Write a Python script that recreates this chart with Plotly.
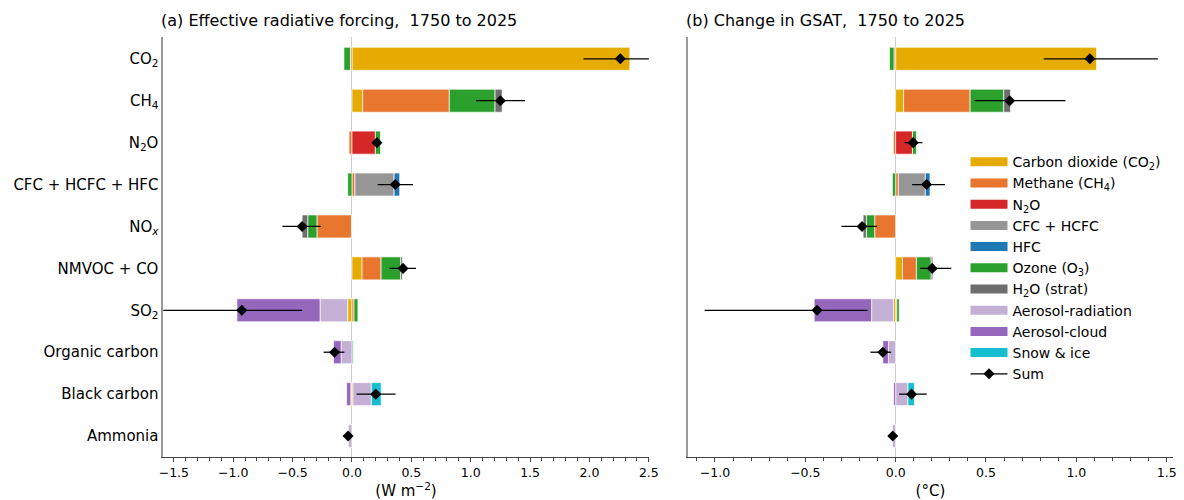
import plotly.graph_objects as go

# The page body adds an 8 px margin, so the figure is 8 px smaller and all
# pixel positions below are in figure coordinates (screen - 8).
W, H = 1176, 492

categories = ["CO<sub>2</sub>", "CH<sub>4</sub>", "N<sub>2</sub>O", "CFC + HCFC + HFC",
              "NO<sub><i>x</i></sub>", "NMVOC + CO", "SO<sub>2</sub>", "Organic carbon",
              "Black carbon", "Ammonia"]

component_names = ["Carbon dioxide (CO<sub>2</sub>)", "Methane (CH<sub>4</sub>)", "N<sub>2</sub>O",
                   "CFC + HCFC", "HFC", "Ozone (O<sub>3</sub>)", "H<sub>2</sub>O (strat)",
                   "Aerosol-radiation", "Aerosol-cloud", "Snow &amp; ice"]
component_colors = ["#E5AB00", "#E8762F", "#D62728", "#969696", "#1F77B4", "#2CA02C",
                     "#6E6E6E", "#C5B0D5", "#9467BD", "#17BECF"]

# (a) Effective radiative forcing (W m-2), per component
erf_co2 = [2.34, 0.09, 0, 0, -0.005, 0.085, -0.036, 0, -0.01, 0]
erf_ch4 = [-0.013, 0.73, -0.025, 0.025, -0.29, 0.16, 0.017, 0, 0.008, 0]
erf_n2o = [0, 0, 0.197, 0, 0, 0, 0, 0, 0, 0]
erf_cfc = [0, 0, 0, 0.33, 0, 0, 0, 0, 0, 0]
erf_hfc = [0, 0, 0, 0.047, 0, 0, 0, 0, 0, 0]
erf_o3 = [-0.055, 0.385, 0.043, -0.036, -0.078, 0.165, 0.033, 0.01, 0, 0]
erf_h2o = [0, 0.06, 0, 0, -0.047, 0.015, 0, 0, 0, 0]
erf_ari = [0, 0, 0, 0, 0, 0, -0.233, -0.091, 0.155, -0.03]
erf_aci = [0, 0, 0, 0, 0, 0, -0.70, -0.064, -0.035, 0]
erf_snow = [0, 0, 0, 0, 0, 0, 0, 0, 0.083, 0]
erf_sum = [2.26, 1.25, 0.21, 0.364, -0.42, 0.43, -0.928, -0.147, 0.20, -0.033]
erf_low = [1.95, 1.045, 0.19, 0.217, -0.586, 0.317, -2.0, -0.239, 0.039, -0.045]
erf_high = [2.62, 1.458, 0.23, 0.514, -0.261, 0.539, -0.42, -0.064, 0.367, -0.021]

# (b) Change in GSAT (degC), per component
gsat_co2 = [1.112, 0.044, 0, 0, 0, 0.038, -0.012, 0, 0, 0]
gsat_ch4 = [-0.009, 0.368, -0.013, 0.015, -0.116, 0.077, 0.006, 0, 0, 0]
gsat_n2o = [0, 0, 0.093, 0, 0, 0, 0, 0, 0, 0]
gsat_cfc = [0, 0, 0, 0.149, 0, 0, 0, 0, 0, 0]
gsat_hfc = [0, 0, 0, 0.026, 0, 0, 0, 0, 0, 0]
gsat_o3 = [-0.025, 0.186, 0.022, -0.018, -0.046, 0.082, 0.014, 0, 0, 0]
gsat_h2o = [0, 0.038, 0, 0, -0.018, 0.009, 0, 0, 0, 0]
gsat_ari = [0, 0, 0, 0, 0, 0, -0.121, -0.04, 0.068, -0.018]
gsat_aci = [0, 0, 0, 0, 0, 0, -0.318, -0.031, -0.011, 0]
gsat_snow = [0, 0, 0, 0, 0, 0, 0, 0, 0.036, 0]
gsat_sum = [1.075, 0.631, 0.097, 0.171, -0.186, 0.202, -0.435, -0.071, 0.088, -0.016]
gsat_low = [0.82, 0.436, 0.05, 0.091, -0.30, 0.135, -1.057, -0.14, 0.019, -0.024]
gsat_high = [1.451, 0.94, 0.148, 0.273, -0.102, 0.308, -0.155, -0.025, 0.172, -0.009]

erf_components = [erf_co2, erf_ch4, erf_n2o, erf_cfc, erf_hfc, erf_o3, erf_h2o, erf_ari, erf_aci, erf_snow]
gsat_components = [gsat_co2, gsat_ch4, gsat_n2o, gsat_cfc, gsat_hfc, gsat_o3, gsat_h2o, gsat_ari, gsat_aci, gsat_snow]

FONT = "DejaVu Sans"
fig = go.Figure()


def nz(vals):
    return [v if v != 0 else None for v in vals]


for comps, xa, ya in [(erf_components, "x", "y"), (gsat_components, "x2", "y2")]:
    for vals, col in zip(comps, component_colors):
        fig.add_trace(go.Bar(
            y=categories, x=nz(vals), orientation="h", width=0.55,
            marker=dict(color=col, line=dict(color="white", width=0.7)),
            showlegend=False, hoverinfo="skip", xaxis=xa, yaxis=ya))

for s, lo, hi, xa, ya in [(erf_sum, erf_low, erf_high, "x", "y"),
                          (gsat_sum, gsat_low, gsat_high, "x2", "y2")]:
    fig.add_trace(go.Scatter(
        x=s, y=categories, mode="markers",
        marker=dict(symbol="diamond", size=8.5, color="black"),
        error_x=dict(type="data", symmetric=False,
                     array=[h - v for h, v in zip(hi, s)],
                     arrayminus=[v - l for v, l in zip(s, lo)],
                     width=0, thickness=1.3, color="black"),
        showlegend=False, xaxis=xa, yaxis=ya))

# legend entries
for name, col in zip(component_names, component_colors):
    fig.add_trace(go.Scatter(x=[None], y=[None], mode="lines", name=name,
                             line=dict(color=col, width=9), xaxis="x2", yaxis="y2"))
fig.add_trace(go.Scatter(x=[None], y=[None], mode="lines+markers", name="Sum",
                         line=dict(color="black", width=1.3),
                         marker=dict(symbol="diamond", size=8.5, color="black"),
                         xaxis="x2", yaxis="y2"))

top, bot = 29, 40
ph = H - top - bot

common_x = dict(showgrid=False, zeroline=True, zerolinecolor="#cccccc", zerolinewidth=1,
                showline=True, linecolor="#444", linewidth=1, ticks="outside", ticklen=4,
                tickcolor="#444", dtick=0.5, tickformat=".1f",
                tickfont=dict(size=12.5, color="black", family=FONT),
                minor=dict(dtick=0.1, ticks="outside", ticklen=2.5, tickcolor="#444"),
                title=dict(font=dict(size=15, color="black", family=FONT), standoff=9))
common_y = dict(showgrid=False, zeroline=False, showline=True, linecolor="#999", linewidth=1.5,
                ticks="", range=[9.5, -0.52], type="category")

fig.update_layout(
    width=W, height=H,
    margin=dict(l=0, r=0, t=top, b=bot),
    plot_bgcolor="white", paper_bgcolor="white",
    barmode="relative",
    font=dict(family=FONT, color="black"),
    xaxis=dict(common_x, domain=[153 / W, 644.5 / W], range=[-1.59, 2.5], anchor="y",
               title_text="(W m<sup>−2</sup>)"),
    xaxis2=dict(common_x, domain=[684 / W, 1175 / W], range=[-1.15, 1.535], anchor="y2",
                title_text="(°C)"),
    yaxis=dict(common_y, anchor="x", tickfont=dict(size=15, color="black", family=FONT)),
    yaxis2=dict(common_y, anchor="x2", showticklabels=False),
    legend=dict(x=965 / W, xanchor="left", y=(H - bot - 139) / ph, yanchor="top",
                yref="paper", bgcolor="rgba(0,0,0,0)", tracegroupgap=0, itemwidth=37,
                font=dict(size=14, family=FONT, color="black")),
    showlegend=True,
    annotations=[
        dict(text="(a) Effective radiative forcing,  1750 to 2025", x=149 / W, xref="paper",
             xanchor="left", y=1 + (top - 12) / ph, yref="paper", yanchor="middle",
             showarrow=False, font=dict(size=16, family=FONT, color="black")),
        dict(text="(b) Change in GSAT,  1750 to 2025", x=680 / W, xref="paper",
             xanchor="left", y=1 + (top - 12) / ph, yref="paper", yanchor="middle",
             showarrow=False, font=dict(size=16, family=FONT, color="black")),
    ],
)

fig.write_html("out.html")
